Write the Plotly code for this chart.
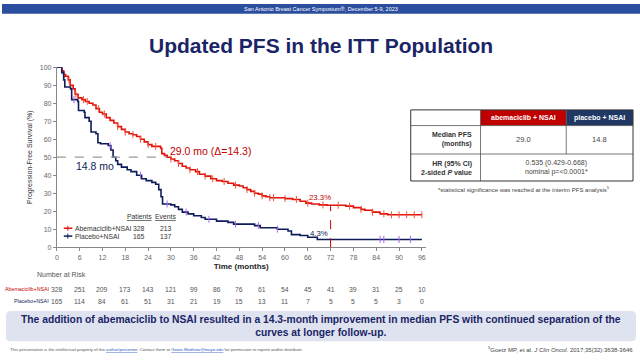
import plotly.graph_objects as go

W, H = 640, 360
def X(px): return px / W
def Y(py): return 1 - py / H

FONT = "Arial, Liberation Sans, sans-serif"
RED = "#e3120b"
DRED = "#c00000"
NAVY = "#0e1d5a"

# ---------------- data ----------------
abema_t = [0, 1.3, 1.8, 2.3, 3.0, 3.5, 4.3, 4.8, 5.6, 6.6, 7.5, 8.5, 9.5, 10.3, 11.2, 12, 13, 14, 15, 16,
           17, 18, 19, 20, 21, 22, 23, 24, 25, 27.3, 27.6, 28.3, 29, 30, 31, 32, 33, 34, 35, 36.5, 37.5, 39,
           40.5, 42, 43.5, 45, 46.5, 48, 49, 50, 51, 52, 53, 54, 55, 56, 60, 62, 64, 65.5, 67, 69, 71, 76,
           78, 80, 81, 83, 85, 87, 96]
abema_s = [100, 98, 96, 95, 93, 90, 88, 85, 83, 82, 81, 80, 79, 77, 75, 74, 72, 70.5, 69, 67,
           65.5, 64, 63, 62.5, 61.5, 60, 58.5, 57, 56, 55, 52, 51, 50, 49, 48, 46.5, 45, 44, 43, 42, 40.5, 39.5,
           38, 37, 36.5, 35.5, 34.5, 34, 33, 32, 31, 30, 29.5, 28.5, 28, 27.5, 27, 26.5, 25.5, 24.5, 24, 23.5, 23.3, 22.8,
           22, 21, 20.5, 19.5, 18.5, 18, 18]
plac_t = [0, 1.3, 1.8, 2.1, 3.6, 3.9, 5.5, 5.7, 7.2, 7.4, 8.5, 9.0, 10.3, 10.8, 11.5, 13.5, 14.2, 14.8, 15.5, 16,
          17, 18.5, 19.5, 21, 22.3, 23.5, 25, 26, 26.8, 27.4, 27.8, 30, 31, 32, 33, 34.5, 36, 38, 39, 42,
          45, 46.5, 52, 53.5, 58, 60.8, 61.7, 64, 66, 68.5, 96]
plac_s = [100, 97, 93, 89, 88, 82, 81, 76, 75, 72, 70, 64, 63, 58, 57.5, 56.5, 54, 50, 48, 46,
          44.5, 43, 42, 40, 38, 37, 36, 35, 32, 28, 24, 23.5, 22.5, 21, 19.5, 18.5, 17.5, 16.5, 15.5, 14.5,
          13.8, 12.8, 12, 10.8, 10, 9, 7, 6.5, 5.5, 4.3, 4.3]
abema_cens = [2, 3.2, 5, 7, 8, 11, 12.5, 16, 18, 20, 22, 24, 26, 30, 32, 35, 37, 39, 41, 44, 47, 50,
              52, 54, 56, 57, 60, 63, 66, 70, 74, 77, 80, 83, 86, 88, 90, 92, 94, 96]
plac_cens = [4.5, 14, 22, 29, 34, 40, 47, 53, 58, 85, 86, 90, 93]

months = list(range(0, 97, 6))
risk_abema = [328, 251, 209, 173, 143, 121, 99, 86, 76, 61, 54, 45, 41, 39, 31, 25, 10]
risk_plac = [165, 114, 84, 61, 51, 31, 21, 19, 15, 13, 11, 7, 5, 5, 5, 3, 0]

median_abema, median_plac, delta = 29.0, 14.8, 14.3
landmark, land_abema, land_plac = 72, 23.3, 4.3
arms = ["Abemaciclib+NSAI", "Placebo+NSAI"]
patients = [328, 165]
events = [213, 137]
hr_text = "0.535 (0.429-0.668)"
p_text = "nominal p=&lt;0.0001*"


def surv_at(t, ts, ss):
    v = ss[0]
    for a, b in zip(ts, ss):
        if a <= t:
            v = b
    return v


fig = go.Figure()
for ts, ss, cens, col, ccol in [(abema_t, abema_s, abema_cens, RED, "#f07070"),
                                (plac_t, plac_s, plac_cens, NAVY, "#6d7fb0")]:
    fig.add_trace(go.Scatter(x=ts, y=ss, mode="lines", line=dict(color=col, width=1.6, shape="hv"),
                             cliponaxis=False, showlegend=False, hoverinfo="skip"))
    fig.add_trace(go.Scatter(x=cens, y=[surv_at(c, ts, ss) for c in cens], mode="markers",
                             marker=dict(symbol="line-ns-open", size=5, line=dict(color=ccol, width=1)),
                             cliponaxis=False, showlegend=False, hoverinfo="skip"))

shapes = []
ann = []

# reference lines
shapes.append(dict(type="line", xref="x", yref="y", x0=0, x1=median_abema, y0=50, y1=50,
                   line=dict(color="#999999", width=1.2, dash="dash")))
shapes.append(dict(type="line", xref="x", yref="y", x0=landmark, x1=landmark, y0=0, y1=land_abema,
                   line=dict(color=DRED, width=1, dash="dash")))

# banner
shapes.append(dict(type="rect", xref="paper", yref="paper", x0=0, x1=1, y0=Y(10), y1=1,
                   fillcolor="#2b4e9e", line=dict(width=0), layer="below"))
ann.append(dict(text="San Antonio Breast Cancer Symposium®, December 5-9, 2023", x=X(320), y=Y(5),
                font=dict(size=5.5, color="white")))
# title
ann.append(dict(text="<b>Updated PFS in the ITT Population</b>", x=X(320), y=Y(42),
                font=dict(size=21, color="#1a2466")))

# curve labels
ann.append(dict(text=f"{median_abema:.1f} mo (Δ={delta})", x=X(167), y=Y(150), xanchor="left",
                font=dict(size=10.5, color=DRED)))
ann.append(dict(text=f"{median_plac:.1f} mo", x=X(72), y=Y(165), xanchor="left",
                font=dict(size=10.5, color=NAVY)))
ann.append(dict(text=f"{land_abema}%", x=X(319), y=Y(197), font=dict(size=7.8, color=DRED)))
ann.append(dict(text=f"{land_plac}%", x=X(318), y=Y(234), font=dict(size=7.8, color=NAVY)))

# legend block
ann.append(dict(text="<u>Patients</u>", x=X(137.5), y=Y(217), font=dict(size=6.8, color="#333")))
ann.append(dict(text="<u>Events</u>", x=X(164.5), y=Y(217), font=dict(size=6.8, color="#333")))
for i, (arm, col) in enumerate(zip(arms, [RED, NAVY])):
    yy = 228.7 + 8 * i
    shapes.append(dict(type="line", xref="paper", yref="paper", x0=X(62), x1=X(70.5), y0=Y(yy), y1=Y(yy),
                       line=dict(color=col, width=1.5)))
    shapes.append(dict(type="line", xref="paper", yref="paper", x0=X(66), x1=X(66), y0=Y(yy - 2.5), y1=Y(yy + 2.5),
                       line=dict(color=col, width=1)))
    ann.append(dict(text=arm, x=X(71.5), y=Y(yy), xanchor="left", font=dict(size=6.8, color="#333")))
    ann.append(dict(text=str(patients[i]), x=X(137.5), y=Y(yy), font=dict(size=6.8, color="#333")))
    ann.append(dict(text=str(events[i]), x=X(164.5), y=Y(yy), font=dict(size=6.8, color="#333")))

# results table
def prect(x0, y0, x1, y1, fill, lc="rgba(0,0,0,0)", lw=0):
    shapes.append(dict(type="rect", xref="paper", yref="paper", x0=X(x0), x1=X(x1), y0=Y(y1), y1=Y(y0),
                       fillcolor=fill, line=dict(color=lc, width=lw)))

def pline(x0, y0, x1, y1, col="#555", w=0.8):
    shapes.append(dict(type="line", xref="paper", yref="paper", x0=X(x0), x1=X(x1), y0=Y(y0), y1=Y(y1),
                       line=dict(color=col, width=w)))

prect(480, 108, 566, 124, DRED)
prect(566, 108, 633, 124, "#1f3864")
prect(410, 108, 633, 180.5, "rgba(0,0,0,0)", "#333", 1)
pline(410, 124, 633, 124)
pline(410, 153, 633, 153)
pline(480, 108, 480, 180.5)
pline(566, 108, 566, 153)
ann.append(dict(text="<b>abemaciclib + NSAI</b>", x=X(523), y=Y(116), font=dict(size=7, color="white")))
ann.append(dict(text="<b>placebo + NSAI</b>", x=X(599.5), y=Y(116), font=dict(size=7, color="white")))
ann.append(dict(text="<b>Median PFS<br>(months)</b>", x=X(473), y=Y(138.5), xanchor="right", align="right",
                font=dict(size=7, color="#333")))
ann.append(dict(text=f"{median_abema:.1f}", x=X(523), y=Y(138.5), font=dict(size=7.5, color="#444")))
ann.append(dict(text=f"{median_plac:.1f}", x=X(599.5), y=Y(138.5), font=dict(size=7.5, color="#444")))
ann.append(dict(text="<b>HR (95% CI)<br>2-sided <i>P</i> value</b>", x=X(473), y=Y(167), xanchor="right",
                align="right", font=dict(size=7, color="#333")))
ann.append(dict(text=f"{hr_text}<br>{p_text}", x=X(556.5), y=Y(167), font=dict(size=7, color="#444")))
ann.append(dict(text="*statistical significance was reached at the interim PFS analysis<sup>5</sup>",
                x=X(524), y=Y(189), font=dict(size=6, color="#444")))

# number at risk
ann.append(dict(text="Number at Risk", x=X(33), y=Y(276), xanchor="left", font=dict(size=7, color="#555")))
for row, (arm, col, vals) in enumerate(zip(arms, [DRED, NAVY], [risk_abema, risk_plac])):
    yy = 291 + 12 * row
    ann.append(dict(text=arm, x=X(49.5), y=Y(yy), xanchor="right", font=dict(size=5.3, color=col)))
    for m, v in zip(months, vals):
        ann.append(dict(text=str(v), x=m, xref="x", y=Y(yy), font=dict(size=6.8, color="#555")))

# bottom message box
x0, x1, y0, y1, r = 4, 636, 313, 344, 5
path = (f"M {X(x0 + r)},{Y(y0)} L {X(x1 - r)},{Y(y0)} Q {X(x1)},{Y(y0)} {X(x1)},{Y(y0 + r)} "
        f"L {X(x1)},{Y(y1 - r)} Q {X(x1)},{Y(y1)} {X(x1 - r)},{Y(y1)} L {X(x0 + r)},{Y(y1)} "
        f"Q {X(x0)},{Y(y1)} {X(x0)},{Y(y1 - r)} L {X(x0)},{Y(y0 + r)} Q {X(x0)},{Y(y0)} {X(x0 + r)},{Y(y0)} Z")
shapes.append(dict(type="path", xref="paper", yref="paper", path=path, fillcolor="#dfe3ef",
                   line=dict(width=0), layer="below"))
ann.append(dict(text="<b>The addition of abemaciclib to NSAI resulted in a 14.3-month improvement in median PFS "
                     "with continued separation of the<br>curves at longer follow-up.</b>",
                x=X(320), y=Y(328.5), font=dict(size=10.3, color="#1a2466")))

# footers
ann.append(dict(text="This presentation is the intellectual property of the "
                     "<span style='color:#2a56c6'><u>author/presenter</u></span>. Contact them at "
                     "<span style='color:#2a56c6'><u>Goetz.Matthew@mayo.edu</u></span> for permission to reprint and/or distribute.",
                x=X(6), y=Y(352), xanchor="left", font=dict(size=4.3, color="#555")))
ann.append(dict(text="<sup>5</sup>Goetz MP, et al. <i>J Clin Oncol</i>. 2017;35(32):3638-3646",
                x=X(635), y=Y(352), xanchor="right", font=dict(size=6, color="#444")))

for a in ann:
    a.setdefault("xref", "paper")
    a.setdefault("yref", "paper")
    a.setdefault("showarrow", False)
    a.setdefault("xanchor", "center")
    a.setdefault("yanchor", "middle")

fig.update_layout(
    width=W, height=H, margin=dict(l=0, r=0, t=0, b=0),
    paper_bgcolor="white", plot_bgcolor="white",
    font=dict(family=FONT, color="#333"),
    shapes=shapes, annotations=ann,
    xaxis=dict(domain=[X(55), X(425)], range=[0, 97], tickvals=months, ticks="outside", ticklen=3,
               tickcolor="#888", showline=True, linecolor="#888", linewidth=1, showgrid=False, zeroline=False,
               tickfont=dict(size=7, color="#666"),
               title=dict(text="<b>Time (months)</b>", font=dict(size=8, color="#222"), standoff=3)),
    yaxis=dict(domain=[Y(248), Y(64.5)], range=[0, 100], tickvals=list(range(0, 101, 10)), ticks="outside",
               ticklen=3, tickcolor="#888", showline=True, linecolor="#888", linewidth=1, showgrid=False,
               zeroline=False, tickfont=dict(size=7, color="#666"),
               title=dict(text="Progression-Free Survival (%)", font=dict(size=7, color="#333"), standoff=6)),
)

fig.write_html("out.html", config={"displayModeBar": False},
               post_script="document.body.style.margin='0';document.body.style.padding='0';"
                           "document.body.style.overflow='hidden';")
